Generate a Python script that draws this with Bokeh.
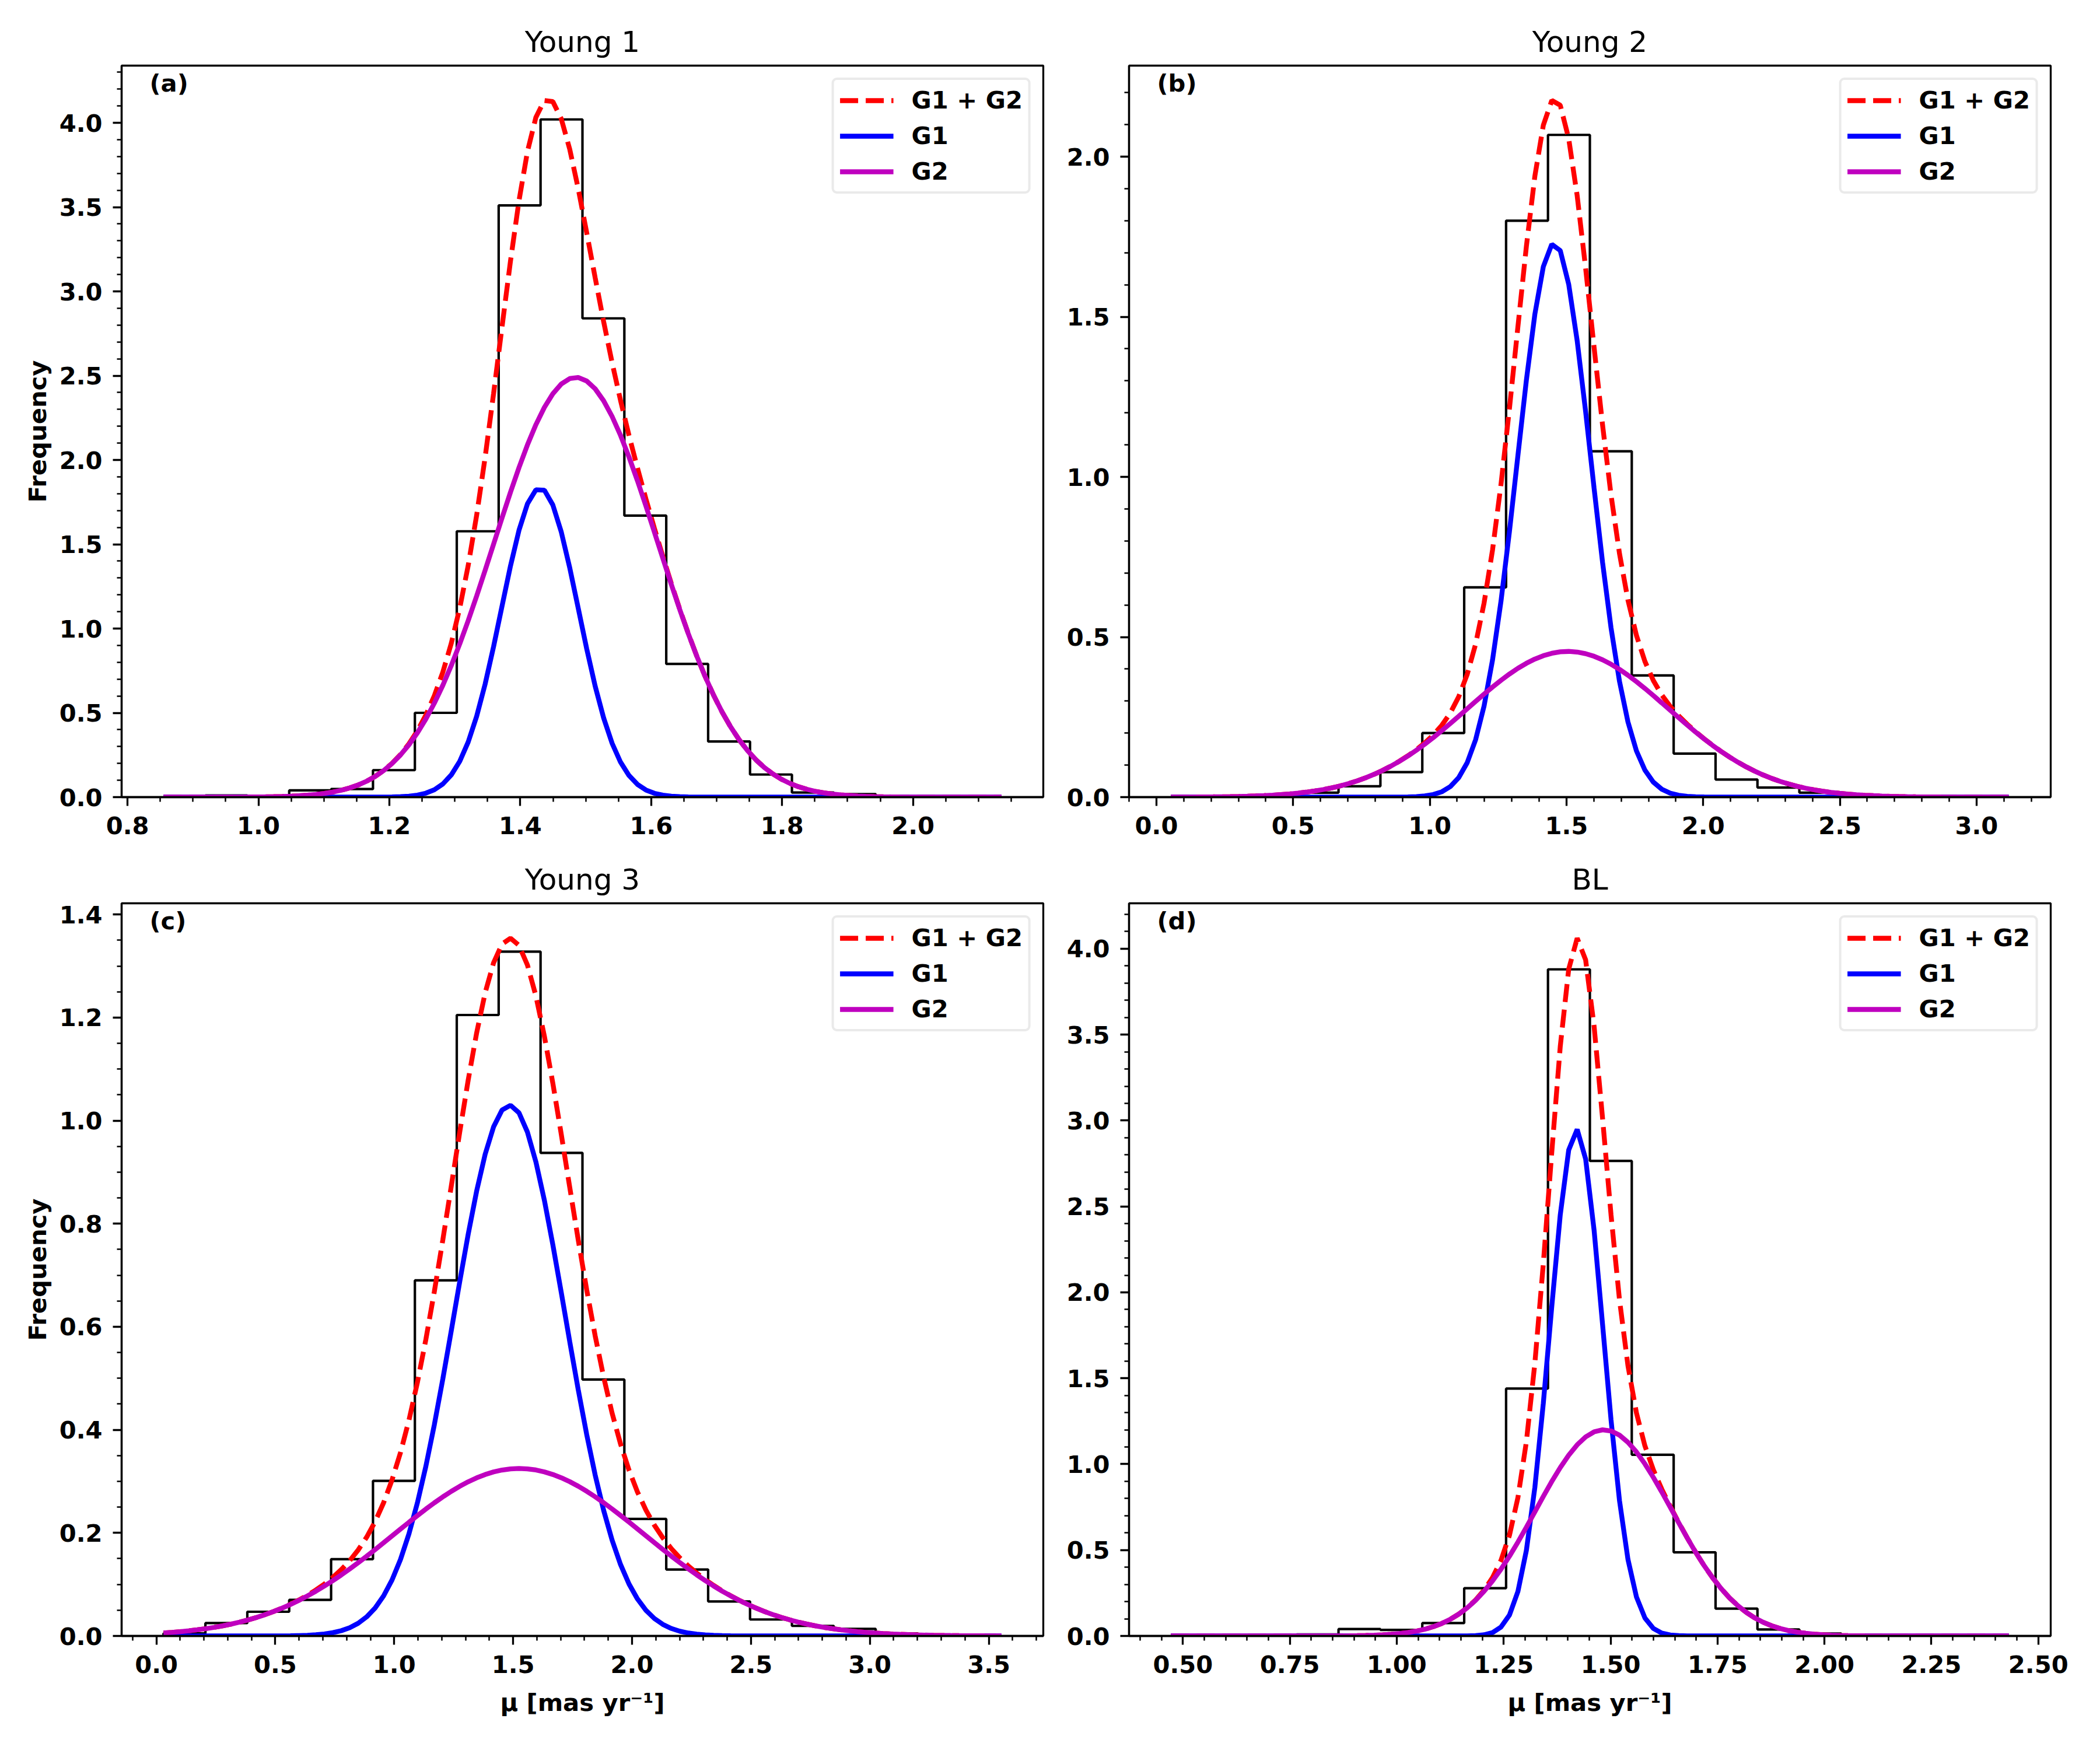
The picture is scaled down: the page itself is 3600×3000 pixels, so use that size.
import numpy as np
from bokeh.plotting import figure
from bokeh.layouts import column, row
from bokeh.models import (SingleIntervalTicker, PrintfTickFormatter, Range1d,
                          Label, Legend, LegendItem)
from bokeh.embed import file_html
from bokeh.resources import INLINE

# ---------------- data ----------------
titles = ["Young 1", "Young 2", "Young 3", "BL"]
letters = ["(a)", "(b)", "(c)", "(d)"]

# histogram ranges (20 equal bins between lo and hi)
range_a = (0.855, 2.135)
range_b = (0.053, 3.118)
range_c = (0.030, 3.553)
range_d = (0.472, 2.431)

# normalised histogram heights (density)
hist_a = [0.0, 0.01, 0.0, 0.04, 0.048, 0.16, 0.50, 1.577, 3.51, 4.02,
          2.84, 1.67, 0.79, 0.33, 0.134, 0.027, 0.018, 0.0, 0.0, 0.0]
hist_b = [0.0, 0.0, 0.006, 0.014, 0.034, 0.078, 0.20, 0.655, 1.80, 2.068,
          1.08, 0.38, 0.136, 0.055, 0.03, 0.014, 0.005, 0.0, 0.0, 0.0]
hist_c = [0.005, 0.025, 0.047, 0.070, 0.149, 0.301, 0.690, 1.205, 1.328, 0.9375,
          0.4976, 0.227, 0.129, 0.067, 0.032, 0.0195, 0.0137, 0.005, 0.0, 0.0]
hist_d = [0.0, 0.0, 0.0, 0.009, 0.04, 0.035, 0.075, 0.278, 1.44, 3.88,
          2.765, 1.055, 0.487, 0.159, 0.038, 0.014, 0.0, 0.0, 0.0, 0.0]

# Gaussian components: (peak amplitude, mean, sigma)
g1_a = (1.833, 1.430, 0.059)
g2_a = (2.49, 1.485, 0.125)
g1_b = (1.73, 1.455, 0.135)
g2_b = (0.455, 1.505, 0.368)
g1_c = (1.03, 1.485, 0.233)
g2_c = (0.325, 1.525, 0.526)
g1_d = (2.95, 1.420, 0.062)
g2_d = (1.20, 1.484, 0.160)

legend_labels = ["G1 + G2", "G1", "G2"]
x_label = "μ [mas yr⁻¹]"
y_label = "Frequency"

# ---------------- styling ----------------
FONT = "DejaVu Sans"
FS = "41.7px"
RED = "#ff0000"
BLUE = "#0000ff"
MAG = "#bf00bf"


def gauss(xs, g):
    a, m, s = g
    return a * np.exp(-0.5 * ((xs - m) / s) ** 2)


def style_axis(ax, ticker, fmt, standoff):
    ax.ticker = ticker
    ax.formatter = PrintfTickFormatter(format=fmt)
    ax.major_tick_out = 15
    ax.major_tick_in = 0
    ax.minor_tick_out = 8
    ax.minor_tick_in = 0
    ax.major_tick_line_width = 3.3
    ax.minor_tick_line_width = 2.5
    ax.major_tick_line_color = "black"
    ax.minor_tick_line_color = "black"
    ax.axis_line_width = 3.3
    ax.axis_line_color = "black"
    ax.major_label_text_font = FONT
    ax.major_label_text_font_size = FS
    ax.major_label_text_font_style = "bold"
    ax.major_label_text_color = "black"
    ax.major_label_standoff = standoff
    ax.axis_label_text_font = FONT
    ax.axis_label_text_font_size = FS
    ax.axis_label_text_font_style = "bold"
    ax.axis_label_text_color = "black"


def make_panel(title, letter, rng, hist, g1, g2, xstep, xminor, xfmt,
               ystep, yminor, yfmt, show_ylabel, show_xlabel,
               bl, br, bt, bb, fw, fh):
    lo, hi = rng
    edges = np.linspace(lo, hi, len(hist) + 1)
    xs = np.linspace(lo, hi, 100)
    y1 = gauss(xs, g1)
    y2 = gauss(xs, g2)
    ys = y1 + y2
    pad = 0.05 * (hi - lo)
    ymax = 1.05 * max(ys.max(), max(hist))

    p = figure(width=bl + fw + br, height=bt + fh + bb,
               x_range=Range1d(lo - pad, hi + pad), y_range=Range1d(0, ymax),
               output_backend="svg", toolbar_location=None,
               min_border_left=bl, min_border_right=br,
               min_border_top=bt, min_border_bottom=bb)
    p.background_fill_color = "white"
    p.border_fill_color = "white"
    p.outline_line_color = "black"
    p.outline_line_width = 3.3
    p.outline_line_alpha = 1.0
    p.xgrid.visible = False
    p.ygrid.visible = False

    p.title.text = title
    p.title.text_font = FONT
    p.title.text_font_size = "50px"
    p.title.text_font_style = "normal"
    p.title.text_color = "black"
    p.title.align = "center"
    p.title.standoff = 23

    # histogram outline (step)
    sx = np.repeat(edges, 2)
    sy = np.concatenate([[0.0], np.repeat(np.asarray(hist, float), 2), [0.0]])
    p.line(sx, sy, line_color="black", line_width=4.2)

    rs = p.line(xs, ys, line_color=RED, line_width=8.3, line_dash="31 13")
    r1 = p.line(xs, y1, line_color=BLUE, line_width=8.3)
    r2 = p.line(xs, y2, line_color=MAG, line_width=8.3)

    leg = Legend(items=[LegendItem(label=legend_labels[0], renderers=[rs]),
                        LegendItem(label=legend_labels[1], renderers=[r1]),
                        LegendItem(label=legend_labels[2], renderers=[r2])],
                 location="top_right", margin=21, padding=10, spacing=12,
                 glyph_width=92, glyph_height=40, label_height=40,
                 label_standoff=31, label_text_font=FONT,
                 label_text_font_size=FS, label_text_font_style="bold",
                 label_text_color="black",
                 border_line_color="#d6d6d6", border_line_width=4.2,
                 background_fill_color="white", background_fill_alpha=0.8)
    try:
        leg.border_radius = 9
    except Exception:
        pass
    p.add_layout(leg)

    p.add_layout(Label(x=lo - pad, y=ymax, x_offset=48, y_offset=-5,
                       text=letter, text_font=FONT, text_font_size=FS,
                       text_font_style="bold", text_color="black",
                       text_baseline="top", text_align="left"))

    style_axis(p.xaxis[0], SingleIntervalTicker(interval=xstep, num_minor_ticks=xminor), xfmt, 18)
    style_axis(p.yaxis[0], SingleIntervalTicker(interval=ystep, num_minor_ticks=yminor), yfmt, 18)
    if show_ylabel:
        p.yaxis.axis_label = y_label
        p.yaxis.axis_label_standoff = 10
    if show_xlabel:
        p.xaxis.axis_label = x_label
        p.xaxis.axis_label_standoff = 23
    return p


FW = 1580
pa = make_panel(titles[0], letters[0], range_a, hist_a, g1_a, g2_a, 0.2, 4, "%.1f",
                0.5, 5, "%.1f", True, False, 208, 32, 112, 84, FW, 1254)
pb = make_panel(titles[1], letters[1], range_b, hist_b, g1_b, g2_b, 0.5, 5, "%.1f",
                0.5, 5, "%.1f", False, False, 115, 40, 112, 84, FW, 1254)
pc = make_panel(titles[2], letters[2], range_c, hist_c, g1_c, g2_c, 0.5, 5, "%.1f",
                0.2, 4, "%.1f", True, True, 208, 32, 98, 170, FW, 1256)
pd = make_panel(titles[3], letters[3], range_d, hist_d, g1_d, g2_d, 0.25, 5, "%.2f",
                0.5, 5, "%.1f", False, True, 115, 40, 98, 170, FW, 1256)

layout = column(row(pa, pb, spacing=0), row(pc, pd, spacing=0), spacing=0)

with open("out.html", "w") as f:
    f.write(file_html(layout, INLINE))
